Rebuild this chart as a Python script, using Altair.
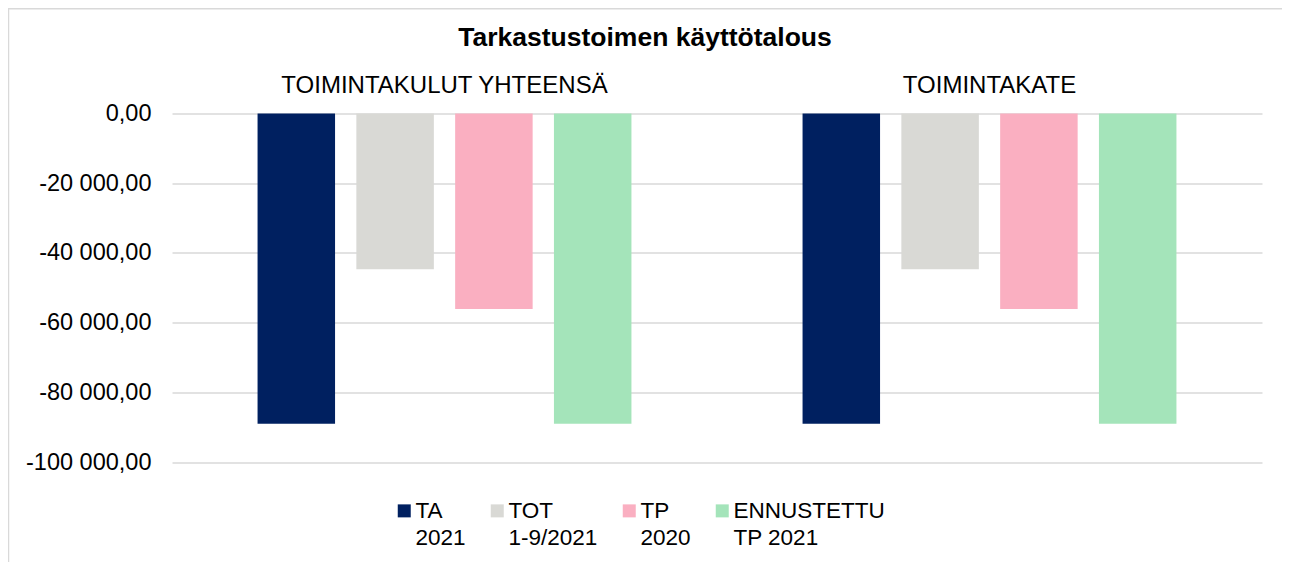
import altair as alt
import pandas as pd

categories = ["TOIMINTAKULUT YHTEENSÄ", "TOIMINTAKATE"]
series = ["TA 2021", "TOT 1-9/2021", "TP 2020", "ENNUSTETTU TP 2021"]
values_kulut = [-89000, -44700, -56100, -89000]
values_kate = [-89000, -44700, -56100, -89000]
colors = ["#002060", "#D9D9D5", "#FAAFC1", "#A4E4BA"]
y_ticks = [0, -20000, -40000, -60000, -80000, -100000]

rows = []
for cat, vals in zip(categories, [values_kulut, values_kate]):
    for s, v in zip(series, vals):
        rows.append({"category": cat, "series": s, "value": v})
df = pd.DataFrame(rows)

W, H = 1090, 348.5
FONT = "Liberation Sans"

y_label_expr = (
    "replace(replace(replace(format(datum.value, ',.2f'), ',', ' '), '.', ','), '\u2212', '-')"
)
# two-line legend labels: split each series name at its first space
legend_label_expr = "datum.label"
for s in reversed(series):
    first, rest = s.split(" ", 1)
    legend_label_expr = f"datum.label == '{s}' ? ['{first}', '{rest}'] : ({legend_label_expr})"

bars = alt.Chart(df).mark_bar().encode(
    x=alt.X(
        "category:N",
        sort=categories,
        scale=alt.Scale(paddingInner=0, paddingOuter=0),
        axis=alt.Axis(
            orient="top", title=None, labelAngle=0, ticks=False, domain=False,
            labelFontSize=24, labelPadding=16, labelColor="#000000",
            labelFont=FONT, grid=False, labelLimit=700,
        ),
    ),
    xOffset=alt.XOffset(
        "series:N", sort=series,
        scale=alt.Scale(paddingInner=0.2156, paddingOuter=0.866),
    ),
    y=alt.Y(
        "value:Q",
        scale=alt.Scale(domain=[-100000, 0], nice=False),
        axis=alt.Axis(
            values=y_ticks, title=None, ticks=False, domain=False,
            labelFontSize=23.5, labelPadding=21, labelColor="#000000",
            labelFont=FONT, gridColor="#d9d9d9", gridWidth=1.5,
            labelExpr=y_label_expr,
        ),
    ),
    color=alt.Color(
        "series:N", sort=series,
        scale=alt.Scale(domain=series, range=colors),
        legend=alt.Legend(
            title=None, orient="none", legendX=221, legendY=386,
            direction="horizontal", columns=4,
            symbolType="square", symbolSize=169,
            symbolStrokeWidth=0, labelFontSize=22.5, labelFont=FONT,
            labelColor="#000000", labelOffset=0, columnPadding=20,
            labelBaseline="middle", padding=0, labelLimit=400,
            labelExpr=legend_label_expr,
        ),
    ),
)

frame_data = alt.Data(values=[{"k": 1}])
left_line = alt.Chart(frame_data).mark_rule(color="#d9d9d9", strokeWidth=1.5).encode(
    x=alt.value(-163.5), y=alt.value(-105.5), y2=alt.value(H + 100)
)
top_line = alt.Chart(frame_data).mark_rule(color="#d9d9d9", strokeWidth=1.5).encode(
    x=alt.value(-164), x2=alt.value(W + 20), y=alt.value(-104.75)
)

chart = alt.layer(bars, left_line, top_line).properties(
    width=W, height=H,
    title=alt.TitleParams(
        "Tarkastustoimen käyttötalous", fontSize=26.5, fontWeight="bold",
        font=FONT, anchor="middle", frame="bounds", offset=0, dy=44,
        color="#000000",
    ),
    autosize=alt.AutoSizeParams(type="none"),
    padding={"left": 164, "top": 105.5, "right": 20, "bottom": 100},
).configure(
    font=FONT, style={"guide-label": {"lineHeight": 27}}
).configure_view(stroke="transparent")

chart.save("out.html", embed_options={"renderer": "svg", "actions": False})
